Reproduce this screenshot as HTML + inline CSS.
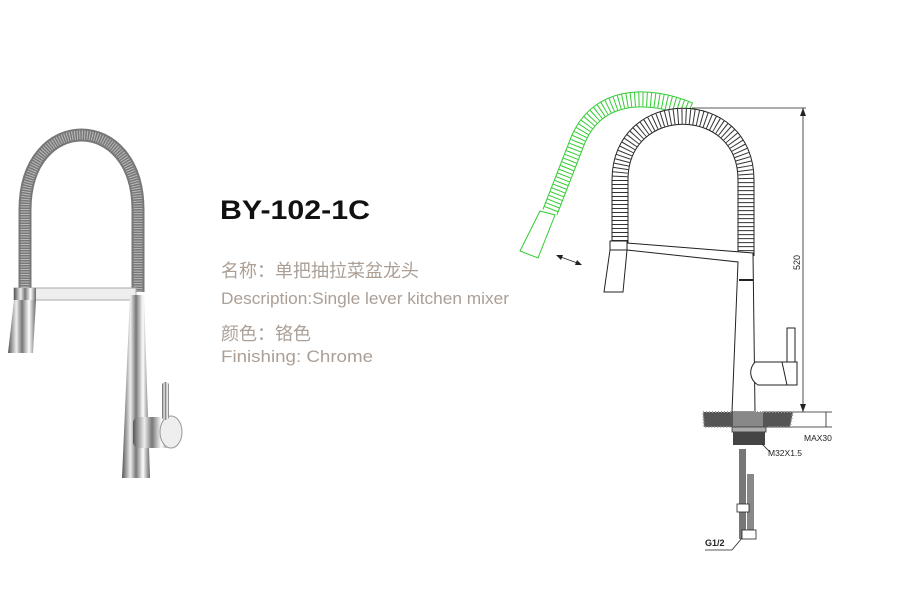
<!DOCTYPE html>
<html><head><meta charset="utf-8"><style>
body{margin:0;background:#fff;}
svg{display:block}
</style></head><body>
<svg width="900" height="600" viewBox="0 0 900 600" xmlns="http://www.w3.org/2000/svg">
<defs>
<linearGradient id="chrome" x1="0" x2="1">
<stop offset="0" stop-color="#555"/><stop offset="0.3" stop-color="#eee"/><stop offset="0.5" stop-color="#777"/><stop offset="0.75" stop-color="#fff"/><stop offset="1" stop-color="#666"/>
</linearGradient>
</defs>
<!-- left photo faucet -->
<path d="M25,290 L25,210 C25,110 138,110 138,210 L138,292" fill="none" stroke="#777" stroke-width="13"/>
<path d="M25,290 L25,210 C25,110 138,110 138,210 L138,292" fill="none" stroke="#bbb" stroke-width="9" stroke-dasharray="1 1.5"/>
<rect x="14" y="288" width="122" height="12" fill="#eee" stroke="#aaa" stroke-width="1"/>
<rect x="14" y="288" width="22" height="12" fill="url(#chrome)"/>
<polygon points="14,300 36,300 33,353 8,353" fill="url(#chrome)"/>
<polygon points="130,295 144,295 150,478 122,478" fill="url(#chrome)"/>
<rect x="133" y="417" width="38" height="31" rx="6" fill="url(#chrome)"/>
<ellipse cx="171" cy="432" rx="11" ry="16" fill="#eee" stroke="#999"/>
<rect x="162" y="382" width="7" height="38" rx="3" fill="url(#chrome)"/>

<!-- text -->
<text x="220" y="219" font-family="Liberation Sans, sans-serif" font-weight="bold" font-size="27" fill="#111" textLength="150" lengthAdjust="spacingAndGlyphs">BY-102-1C</text>
<g font-family="Liberation Sans, 'Noto Sans CJK SC', sans-serif" fill="#ab9f96">
<text x="221" y="277" font-size="18">名称：单把抽拉菜盆龙头</text>
<text x="221" y="304" font-size="17" textLength="288" lengthAdjust="spacingAndGlyphs">Description:Single lever kitchen mixer</text>
<text x="221" y="340" font-size="18">颜色：铬色</text>
<text x="221" y="362" font-size="17" textLength="152" lengthAdjust="spacingAndGlyphs">Finishing: Chrome</text>
</g>

<!-- right drawing -->
<g fill="none" stroke="#222" stroke-width="1">
<path d="M690,110 C650,93 598,92 578,140 L550,212" stroke="#3c3" stroke-width="16"/>
<path d="M690,110 C650,93 598,92 578,140 L550,212" stroke="#fff" stroke-width="14"/>
<path d="M690,110 C650,93 598,92 578,140 L550,212" stroke="#3c3" stroke-width="14" stroke-dasharray="1 3"/>
<polygon points="540,211 555,215 538,258 520,251" stroke="#3c3"/>
<path d="M620,245 L620,180 C620,95 746,95 746,180 L746,256" stroke="#222" stroke-width="17"/>
<path d="M620,245 L620,180 C620,95 746,95 746,180 L746,256" stroke="#fff" stroke-width="15"/>
<path d="M620,245 L620,180 C620,95 746,95 746,180 L746,256" stroke="#333" stroke-width="15" stroke-dasharray="1 3"/>
<polygon points="627,243 753,253 755,412 732,412 738,262 627,250" fill="#fff"/>
<line x1="739" y1="280" x2="753" y2="280" stroke-width="2"/>
<rect x="610" y="241" width="17" height="9" fill="#fff"/>
<polygon points="610,250 627,250 623,292 604,292" fill="#fff"/>
<path d="M755,362 L797,362 L797,385 L758,385 C750,380 748,370 755,362 Z" fill="#fff"/>
<line x1="782" y1="362" x2="787" y2="385"/>
<rect x="787" y="328" width="8" height="34" fill="#fff"/>
<line x1="692" y1="108" x2="806" y2="108" stroke-width="0.8"/>
<line x1="803" y1="108" x2="803" y2="412" stroke-width="0.8"/>
<line x1="762" y1="412" x2="832" y2="412" stroke-width="0.8"/>
<line x1="765" y1="427" x2="832" y2="427" stroke-width="0.8"/>
<line x1="826" y1="412" x2="826" y2="427" stroke-width="0.8"/>
<line x1="558" y1="256" x2="580" y2="264" stroke-width="0.8"/>
</g>
<polygon points="803,108 800,116 806,116" fill="#222"/>
<polygon points="803,412 800,404 806,404" fill="#222"/>
<polygon points="556,255 563,255 561,260" fill="#222"/>
<polygon points="582,265 575,265 577,260" fill="#222"/>
<path d="M703,412 L793,412 L790,427 L704,427 Z" fill="#555"/>
<path d="M703,412 L793,412 L790,427 L704,427 Z" fill="none" stroke="#999" stroke-width="2" stroke-dasharray="1 2"/>
<rect x="733" y="412" width="30" height="15" fill="#888"/>
<rect x="732" y="427" width="34" height="5" fill="#aaa" stroke="#333" stroke-width="0.8"/>
<rect x="733" y="432" width="32" height="13" fill="#444"/>
<line x1="762" y1="444" x2="770" y2="452" stroke="#222" stroke-width="0.8"/>
<rect x="739" y="449" width="7" height="90" fill="#777"/>
<rect x="747" y="474" width="7" height="62" fill="#888"/>
<rect x="737" y="504" width="12" height="8" fill="#fff" stroke="#222" stroke-width="0.8"/>
<rect x="742" y="530" width="14" height="9" fill="#fff" stroke="#222" stroke-width="0.8"/>
<line x1="742" y1="538" x2="732" y2="550" stroke="#222" stroke-width="0.8"/>
<line x1="732" y1="550" x2="705" y2="550" stroke="#222" stroke-width="0.8"/>
<g font-family="Liberation Sans, sans-serif" fill="#222" font-size="9">
<text x="0" y="0" transform="translate(800,270) rotate(-90)">520</text>
<text x="804" y="441" font-size="8.5">MAX30</text>
<text x="768" y="456" font-size="8.5">M32X1.5</text>
<text x="705" y="546" font-size="9" font-weight="bold">G1/2</text>
</g>
</svg>
</body></html>
